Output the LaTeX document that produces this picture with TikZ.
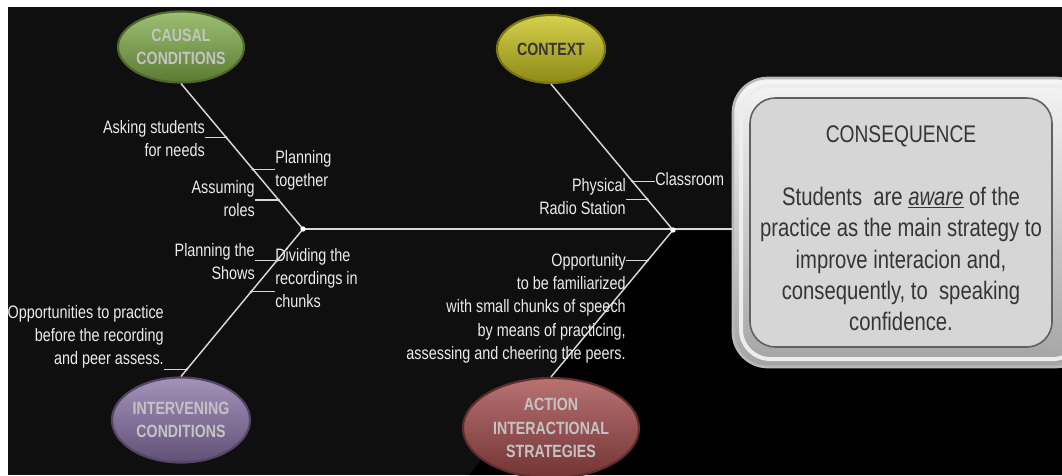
\documentclass[tikz,border=0pt]{standalone}
\usepackage{fontspec}
\setmainfont{Liberation Sans}[FakeStretch=0.8]
\usetikzlibrary{shapes.geometric}
\definecolor{bg}{HTML}{0F0F0F}
\definecolor{linec}{HTML}{D8D8D8}
\definecolor{labelc}{HTML}{ECECEC}
\definecolor{causalc}{HTML}{82AE4A}
\definecolor{contextc}{HTML}{CAC41C}
\definecolor{interc}{HTML}{8A73A8}
\definecolor{actionc}{HTML}{A44A4A}
\definecolor{etext}{HTML}{C4C4C4}
\definecolor{dtext}{HTML}{353535}
\definecolor{framec}{HTML}{A4A4A4}
\definecolor{panelc}{HTML}{D6D6D6}
\begin{document}
\begin{tikzpicture}[x=0.75pt,y=-0.75pt,
  lbl/.style={text=labelc, inner sep=0pt, font=\fontsize{13.5}{17.5}\selectfont},
  bone/.style={draw=linec, line width=1.1pt},
  tick/.style={draw=linec, line width=0.9pt},
  cat/.style={ellipse, inner sep=0pt, align=center, line width=1.6pt,
    font=\fontsize{13.3}{17.5}\selectfont\bfseries},
  catcol/.style={top color=#1!78!white, middle color=#1, bottom color=#1!70!black, draw=#1!60!black},
  dot/.style={fill=linec},
]
\useasboundingbox (0,0) rectangle (1062,475);
\begin{scope}
\clip (0,0) rectangle (1062,475);
\fill[white] (0,0) rectangle (1062,475);
\fill[bg] (8,7) rectangle (1062,475);
\fill[black] (673,231) -- (1062,231) -- (1062,475) -- (469,475) -- cycle;

% consequence box
\node[draw=gray!55, top color=white!92!gray, bottom color=framec, line width=2pt, rounded corners=26pt,
  minimum width=267.75pt, minimum height=216.75pt] (consframe) at (911.5,222.5) {};
\draw[white!80!framec, line width=3pt, rounded corners=22pt] (741,86) rectangle (1082,359);
\node[fill=panelc, draw=gray!75!black, line width=1.2pt, rounded corners=19pt,
  minimum width=226.5pt, minimum height=186.75pt] (cons) at (901,222.5) {};
\node[anchor=base, inner sep=0pt, text=dtext, font=\fontsize{18}{22}\selectfont] (title) at (901,142) {CONSEQUENCE};
\node[anchor=north, inner sep=0pt, text=dtext, align=center, font=\fontsize{19}{23.5}\selectfont] (body) at (901,187)
  {Students\ \ are \underline{\textit{aware}} of the\\practice as the main strategy to\\improve interacion and,\\consequently, to\ \ speaking\\confidence.};

% category ellipses
\node[cat, catcol=causalc, text=etext, minimum width=94.5pt, minimum height=53.25pt] (causal) at (181,47) {CAUSAL\\CONDITIONS};
\node[cat, catcol=contextc, text=dtext, minimum width=81pt, minimum height=51pt] (context) at (551,49) {CONTEXT};
\node[cat, catcol=interc, text=etext, minimum width=103.5pt, minimum height=63.75pt] (inter) at (181,420) {INTERVENING\\CONDITIONS};
\node[cat, catcol=actionc, text=etext, minimum width=132pt, minimum height=75pt] (action) at (551,428) {ACTION\\INTERACTIONAL\\STRATEGIES};

% junctions
\coordinate (j1) at (303,229);
\coordinate (j2) at (673,230);

% bones
\draw[bone] (j1) -- (j1 -| consframe.west);
\draw[bone] (causal.south) -- (j1) coordinate[pos=0.37] (cb1) coordinate[pos=0.589] (cb2) coordinate[pos=0.801] (cb3);
\draw[bone] (j1) -- (inter.north) coordinate[pos=0.216] (ib1) coordinate[pos=0.426] (ib2) coordinate[pos=0.953] (ib3);
\draw[bone] (context.south) -- (j2) coordinate[pos=0.667] (xb1) coordinate[pos=0.789] (xb2);
\draw[bone] (j2) -- (action.north) coordinate[pos=0.209] (ab1);

% labels
\node[lbl, anchor=north east, align=right] (ask) at (205,120) {Asking students\\for needs};
\node[lbl, anchor=north west, align=left] (plan) at (275,150) {Planning\\together};
\node[lbl, anchor=north east, align=right] (assume) at (255,180) {Assuming\\roles};
\node[lbl, anchor=north east, align=right] (shows) at (255,243) {Planning the\\Shows};
\node[lbl, anchor=north west, align=left] (divide) at (275,248) {Dividing the\\recordings in\\chunks};
\node[lbl, anchor=north east, align=right] (opp) at (164,305) {Opportunities to practice\\before the recording\\and peer assess.};
\node[lbl, anchor=north west] (class) at (655,172) {Classroom};
\node[lbl, anchor=north east, align=right] (phys) at (626,178) {Physical\\Radio Station};
\node[lbl, anchor=north east, align=right] (famil) at (626,253) {Opportunity\\to be familiarized\\with small chunks of speech\\by means of practicing,\\assessing and cheering the peers.};

% ticks
\draw[tick] (cb1) -- (cb1 -| ask.east);
\draw[tick] (cb2) -- (cb2 -| plan.west);
\draw[tick] (cb3) -- (cb3 -| assume.east);
\draw[tick] (ib1) -- (ib1 -| shows.east);
\draw[tick] (ib2) -- (ib2 -| divide.west);
\draw[tick] (ib3) -- (ib3 -| opp.east);
\draw[tick] (xb1) -- (xb1 -| class.west);
\draw[tick] (xb2) -- (xb2 -| phys.east);
\draw[tick] (ab1) -- (ab1 -| famil.east);

% dots
\foreach \p in {cb1,cb2,cb3,ib1,ib2,ib3,xb1,xb2,ab1} \fill[dot] (\p) circle (1.1pt);
\fill[white] (j1) circle (2pt);
\fill[white] (j2) circle (2pt);
\end{scope}
\end{tikzpicture}
\end{document}
